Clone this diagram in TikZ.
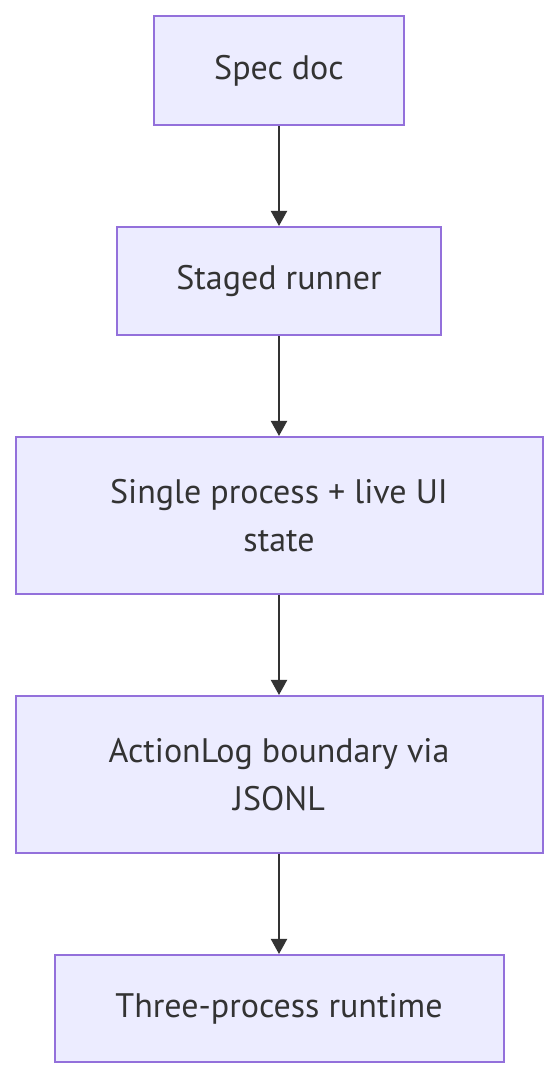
\documentclass[tikz,border=0pt]{standalone}
\usepackage{fontspec}
\setmainfont{PT Sans}
\usetikzlibrary{arrows.meta}
\definecolor{nodefill}{HTML}{ECECFF}
\definecolor{nodeline}{HTML}{9370DB}
\definecolor{txt}{HTML}{333333}
\tikzset{
  flowbox/.style={draw=nodeline, fill=nodefill, line width=1pt, text=txt,
    align=center, inner sep=0pt, font=\fontsize{17}{24}\selectfont},
  flowarrow/.style={draw=txt, line width=1pt, -{Triangle[width=8pt,length=7.5pt]}}
}
\begin{document}
\begin{tikzpicture}[x=1pt,y=1pt]
\useasboundingbox (0,0) rectangle (279,540);
\node[flowbox, minimum width=125pt, minimum height=54.5pt] (a) at (139.5,504.75) {Spec doc};
\node[flowbox, minimum width=162pt, minimum height=54pt] (b) at (139.5,399.5) {Staged runner};
\node[flowbox, minimum width=263.5pt, minimum height=78.5pt] (c) at (139.5,282.25) {Single process + live UI\\state};
\node[flowbox, minimum width=263.5pt, minimum height=78.5pt] (d) at (139.5,152.75) {ActionLog boundary via\\JSONL};
\node[flowbox, minimum width=224.5pt, minimum height=53.5pt] (e) at (139.5,35.75) {Three-process runtime};
\draw[flowarrow] (a.south) -- (b.north);
\draw[flowarrow] (b.south) -- (c.north);
\draw[flowarrow] (c.south) -- (d.north);
\draw[flowarrow] (d.south) -- (e.north);
\end{tikzpicture}
\end{document}
